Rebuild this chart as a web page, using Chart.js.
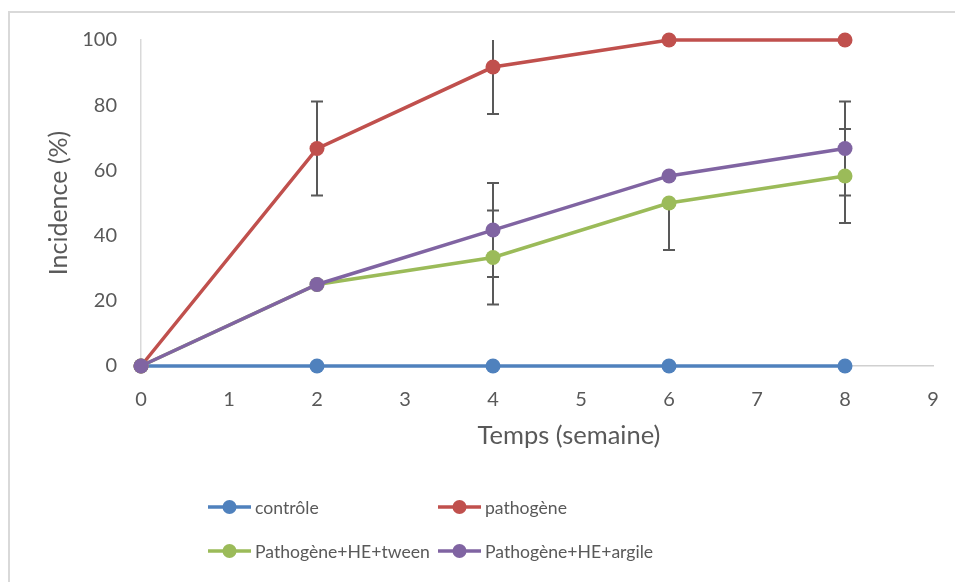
<!DOCTYPE html>
<html lang="fr">
<head>
<meta charset="utf-8">
<script src="https://cdn.jsdelivr.net/npm/chart.js@4.4.1/dist/chart.umd.min.js"></script>
<style>
  body { margin: 0; background: #fff; }
  #wrap { position: relative; width: 955px; height: 582px; }
  #frame {
    position: absolute; left: 8px; top: 11px; right: -2px; bottom: -2px;
    border: 2px solid #d9d9d9; pointer-events: none;
  }
</style>
</head>
<body>
<div id="wrap">
  <canvas id="myChart" width="955" height="582"></canvas>
  <div id="frame"></div>
</div>
<script>
// semaines
const weeks = [0, 2, 4, 6, 8];

const seriesNames = ["contrôle", "pathogène", "Pathogène+HE+tween", "Pathogène+HE+argile"];
const seriesColors = ["#4F81BD", "#C0504D", "#9BBB59", "#8064A2"];

const controle = [0, 0, 0, 0, 0];
const pathogene = [0, 66.7, 91.7, 100, 100];
const tween = [0, 25, 33.3, 50, 58.3];
const argile = [0, 25, 41.7, 58.3, 66.7];

// barres d'erreur (+ / -)
const errPlus = [
  [0, 0, 0, 0, 0],
  [0, 14.4, 14.4, 0, 0],
  [0, 0, 14.4, 0, 14.4],
  [0, 0, 14.4, 0, 14.4],
];
const errMinus = [
  [0, 0, 0, 0, 0],
  [0, 14.4, 14.4, 0, 0],
  [0, 0, 14.4, 14.4, 14.4],
  [0, 0, 14.4, 0, 14.4],
];

const xTicks = [0, 1, 2, 3, 4, 5, 6, 7, 8, 9];
const yTicks = [0, 20, 40, 60, 80, 100];
const xTitle = "Temps (semaine)";
const yTitle = "Incidence (%)";

const FONT = "Lato, 'Open Sans', sans-serif";
const TEXT = "#595959";

const allValues = [controle, pathogene, tween, argile];

const datasets = allValues.map((vals, i) => ({
  label: seriesNames[i],
  data: weeks.map((w, j) => ({ x: w, y: vals[j] })),
  borderColor: seriesColors[i],
  backgroundColor: seriesColors[i],
  borderWidth: 3.5,
  pointRadius: 7.5,
  pointHoverRadius: 7.5,
  pointBorderWidth: 0,
  tension: 0,
  clip: false,
  order: allValues.length - i,
  errPlus: errPlus[i],
  errMinus: errMinus[i],
}));

// barres d'erreur dessinées avec les échelles du graphique
const errorBars = {
  id: "errorBars",
  beforeDatasetsDraw(chart) {
    const { ctx, chartArea, scales } = chart;
    ctx.save();
    ctx.beginPath();
    ctx.rect(chartArea.left, chartArea.top, chartArea.right - chartArea.left, chartArea.bottom - chartArea.top);
    ctx.clip();
    ctx.strokeStyle = "#595959";
    ctx.lineWidth = 2;
    chart.data.datasets.forEach((ds) => {
      ds.data.forEach((p, j) => {
        const px = scales.x.getPixelForValue(p.x);
        const up = ds.errPlus[j];
        const down = ds.errMinus[j];
        const half = 6;
        const drawOne = (v) => {
          const y0 = scales.y.getPixelForValue(p.y);
          const y1 = scales.y.getPixelForValue(v);
          ctx.beginPath();
          ctx.moveTo(px, y0);
          ctx.lineTo(px, y1);
          ctx.moveTo(px - half, y1);
          ctx.lineTo(px + half, y1);
          ctx.stroke();
        };
        if (up > 0) drawOne(p.y + up);
        if (down > 0) drawOne(p.y - down);
      });
    });
    ctx.restore();
  },
};

// titre de l'axe X (décalé à droite comme dans l'original) + légende sur deux colonnes
const lineLegend = {
  id: "lineLegend",
  afterDraw(chart) {
    const { ctx } = chart;
    ctx.save();
    ctx.fillStyle = TEXT;
    ctx.font = "25.5px " + FONT;
    ctx.textAlign = "center";
    ctx.textBaseline = "alphabetic";
    ctx.fillText(xTitle, 569, 444);

    const cols = [208, 438];
    const rows = [507, 551];
    ctx.font = "17.6px " + FONT;
    ctx.textAlign = "left";
    ctx.textBaseline = "middle";
    chart.data.datasets.forEach((ds, i) => {
      const x = cols[i % 2];
      const y = rows[Math.floor(i / 2)];
      ctx.strokeStyle = ds.borderColor;
      ctx.lineWidth = 3.5;
      ctx.beginPath();
      ctx.moveTo(x, y);
      ctx.lineTo(x + 43, y);
      ctx.stroke();
      ctx.fillStyle = ds.borderColor;
      ctx.beginPath();
      ctx.arc(x + 21.5, y, 7, 0, Math.PI * 2);
      ctx.fill();
      ctx.fillStyle = TEXT;
      ctx.fillText(ds.label, x + 47, y + 1);
    });
    ctx.restore();
  },
};

const ctx = document.getElementById("myChart").getContext("2d");
new Chart(ctx, {
  type: "line",
  data: { datasets },
  plugins: [errorBars, lineLegend],
  options: {
    responsive: false,
    animation: false,
    events: [],
    layout: { padding: { left: 44, top: 40, right: 22, bottom: 131 } },
    plugins: {
      legend: { display: false },
      tooltip: { enabled: false },
    },
    scales: {
      x: {
        type: "linear",
        min: xTicks[0],
        max: xTicks[xTicks.length - 1],
        afterBuildTicks: (s) => { s.ticks = xTicks.map((v) => ({ value: v })); },
        afterFit: (s) => { s.height = 85; },
        grid: { display: false },
        border: { display: true, color: "#d0d0d0", width: 1.5 },
        ticks: { color: TEXT, font: { family: FONT, size: 20 }, padding: 14, maxRotation: 0 },
        title: { display: false },
      },
      y: {
        type: "linear",
        min: yTicks[0],
        max: yTicks[yTicks.length - 1],
        afterBuildTicks: (s) => { s.ticks = yTicks.map((v) => ({ value: v })); },
        afterFit: (s) => { s.width = 97; },
        grid: { display: false },
        border: { display: true, color: "#d9d9d9", width: 1.5 },
        ticks: { color: TEXT, font: { family: FONT, size: 20 }, padding: 16 },
        title: {
          display: true, text: yTitle, color: TEXT,
          font: { family: FONT, size: 25 }, padding: 0,
        },
      },
    },
  },
});
</script>
</body>
</html>
